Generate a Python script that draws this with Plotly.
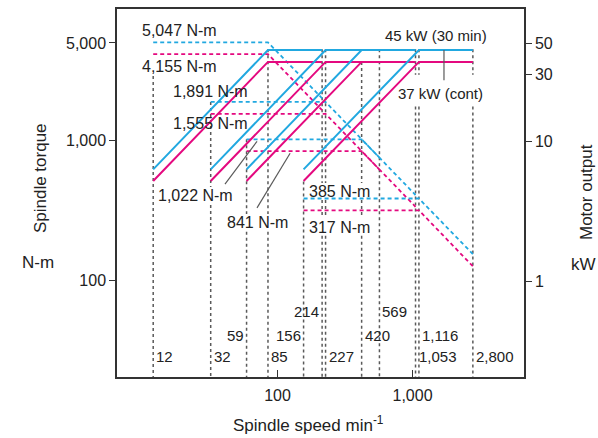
import numpy as np
import plotly.graph_objects as go

# ---------------- data ----------------
gear_min_speed = [12, 32, 59, 156]          # min^-1
gear_base_speed = [85, 227, 420, 1116]      # min^-1
gear_max_speed = [214, 569, 1053, 2800]     # min^-1
torque_30min = [5047, 1891, 1022, 385]      # N-m
torque_cont = [4155, 1555, 841, 317]        # N-m
torque_at_max_30min = [2008, 755, 408, 154] # N-m (read)
torque_at_max_cont = [1651, 621, 336, 126]  # N-m (read)
power_at_min_30min = [6.3, 6.3, 6.3, 6.3]   # kW (read)
power_at_min_cont = [5.2, 5.2, 5.2, 5.2]    # kW (read)
power_30min = 45                            # kW
power_cont = 37                             # kW

marker_speeds = [12, 32, 59, 85, 156, 214, 227, 420, 569, 1053, 1116, 2800]
marker_top_torque = [2900, 1891, 1022, 4500, 510, 4500, 4500, 3650, 4500, 4500, 4500, 4500]
marker_labels = ["12", "32", "59", "85", "156", "214", "227", "420", "569", "1,053", "1,116", "2,800"]
marker_label_side = ["l", "l", "r", "l", "r", "r", "l", "l", "l", "l", "l", "l"]
marker_label_row = [1, 1, 2, 1, 2, 3, 1, 2, 3, 1, 2, 1]

BLUE = "#21A8E0"
MAG = "#E4097F"
GRAY = "#5a5a5a"
FONT = "Liberation Sans"

W, H = 598, 438
L, R, T, B = 117, 524, 7, 377
XR = [0.811, 3.826]
YR = [1.308, 3.942]
Y2R = [-0.687, 1.947]


def px(xp):
    return (xp - L) / (R - L)


def py(yp):
    return (B - yp) / (B - T)


def speed_to_px(s):
    return L + (np.log10(s) - XR[0]) / (XR[1] - XR[0]) * (R - L)


def px_to_torque(yp):
    return 10 ** (YR[1] - (yp - T) / (B - T) * (YR[1] - YR[0]))


# label boxes (pixel) that hide the guide lines behind them
label_boxes = [
    (156, 240, 186, 204),
    (225, 295, 213, 231),
    (306, 376, 182, 199),
    (306, 376, 217, 235),
    (396, 490, 73, 105),
]

fig = go.Figure()

# gray vertical dashed guides (broken where a label sits on them)
vx, vy = [], []
for s, top in zip(marker_speeds, marker_top_torque):
    xp = speed_to_px(s)
    gaps = sorted([(b[2], b[3]) for b in label_boxes if b[0] <= xp <= b[1]])
    cur = top
    for g0, g1 in gaps:
        t0 = px_to_torque(g0)
        t1 = px_to_torque(g1)
        if t0 < cur:
            vx += [s, s, None]
            vy += [cur, t0, None]
        cur = min(cur, t1)
    vx += [s, s, None]
    vy += [cur, 10, None]
fig.add_trace(go.Scatter(x=vx, y=vy, mode="lines",
                         line=dict(color=GRAY, width=1.5, dash="3px,3px"),
                         hoverinfo="skip", showlegend=False))

# torque curves (dashed, left axis)
for tq, tqmax, col in [(torque_cont, torque_at_max_cont, MAG), (torque_30min, torque_at_max_30min, BLUE)]:
    xs, ys = [], []
    for i in range(4):
        xs += [gear_min_speed[i], gear_base_speed[i], gear_max_speed[i], None]
        ys += [tq[i], tq[i], tqmax[i], None]
    fig.add_trace(go.Scatter(x=xs, y=ys, mode="lines",
                             line=dict(color=col, width=1.8, dash="4px,3px"),
                             hoverinfo="skip", showlegend=False))

# power curves (solid, right axis)
for pmin, pmax, col in [(power_at_min_cont, power_cont, MAG), (power_at_min_30min, power_30min, BLUE)]:
    xs, ys = [], []
    for i in range(4):
        xs += [gear_min_speed[i], gear_base_speed[i], gear_max_speed[i], None]
        ys += [pmin[i], pmax, pmax, None]
    fig.add_trace(go.Scatter(x=xs, y=ys, mode="lines", yaxis="y2",
                             line=dict(color=col, width=2),
                             hoverinfo="skip", showlegend=False))

# leader lines
fig.add_trace(go.Scatter(x=[40.8, 70.5, None, 70.5, 124], y=[489, 989, None, 330, 812],
                         mode="lines", line=dict(color=GRAY, width=1.2),
                         hoverinfo="skip", showlegend=False))
fig.add_trace(go.Scatter(x=[1711, 1711], y=[45, 27.4], yaxis="y2",
                         mode="lines", line=dict(color=GRAY, width=1.2),
                         hoverinfo="skip", showlegend=False))

ann = []
tf = dict(family=FONT, size=17, color="#222")


def txt(text, xp, yp, size=16):
    ann.append(dict(text=text, x=px(xp), y=py(yp), xref="paper", yref="paper",
                    xanchor="left", yanchor="middle", showarrow=False,
                    font=dict(family=FONT, size=size, color="#222"), borderpad=0))


txt("5,047 N-m", 141, 29)
txt("4,155 N-m", 141, 65)
txt("1,891 N-m", 172, 90)
txt("1,555 N-m", 172, 122)
txt("1,022 N-m", 157, 195)
txt("841 N-m", 226, 222)
txt("385 N-m", 308, 190)
txt("317 N-m", 308, 227)
txt("45 kW (30 min)", 384, 34, size=15)
txt("37 kW (cont)", 397, 92, size=15)

row_y = {1: 356, 2: 335, 3: 311}
for s, lab, side, row in zip(marker_speeds, marker_labels, marker_label_side, marker_label_row):
    ann.append(dict(text=lab, x=np.log10(s), xref="x", y=py(row_y[row]), yref="paper",
                    xanchor="left" if side == "l" else "right",
                    xshift=1 if side == "l" else -1, yanchor="middle",
                    showarrow=False, font=dict(family=FONT, size=15, color="#222")))


def title(text, xp, yp, angle=0):
    ann.append(dict(text=text, x=px(xp), y=py(yp), xref="paper", yref="paper",
                    xanchor="center", yanchor="middle", textangle=angle,
                    showarrow=False, font=tf))


title("Spindle torque", 40, 177, -90)
title("N-m", 38, 262)
title("Motor output", 586, 191, -90)
title("kW", 583, 264)
title("Spindle speed min<sup>-1</sup>", 308, 424)

axcol = "#333"
fig.update_layout(
    width=W, height=H,
    margin=dict(l=L, r=W - R, t=T, b=H - B, pad=0),
    paper_bgcolor="white", plot_bgcolor="white",
    font=dict(family=FONT, size=16, color="#222"),
    annotations=ann,
    xaxis=dict(type="log", range=XR, tickvals=[100, 1000], ticktext=["100", "1,000"],
               ticks="inside", ticklen=7, tickwidth=1.2, tickcolor=axcol,
               showline=True, linecolor=axcol, linewidth=1.5, mirror=True,
               showgrid=False, zeroline=False, tickfont=dict(size=16),
               ticklabelstandoff=3),
    yaxis=dict(type="log", range=YR, tickvals=[100, 1000, 5000],
               ticktext=["100", "1,000", "5,000"],
               ticks="outside", ticklen=6, tickwidth=1.2, tickcolor=axcol,
               showline=True, linecolor=axcol, linewidth=1.5,
               showgrid=False, zeroline=False, tickfont=dict(size=16)),
    yaxis2=dict(type="log", range=Y2R, overlaying="y", side="right",
                tickvals=[1, 10, 30, 50], ticktext=["1", "10", "30", "50"],
                ticks="outside", ticklen=6, tickwidth=1.2, tickcolor=axcol,
                showline=True, linecolor=axcol, linewidth=1.5,
                showgrid=False, zeroline=False, tickfont=dict(size=16)),
)

fig.write_html("out.html")
